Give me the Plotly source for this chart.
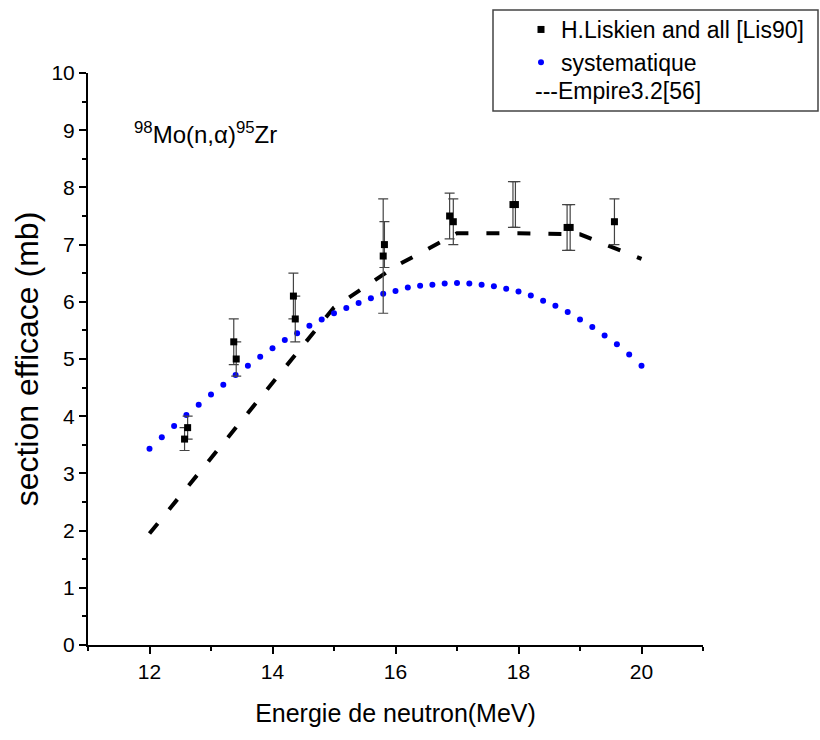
import plotly.graph_objects as go

# Experimental data: H.Liskien and all [Lis90]
lis_x = [12.57, 12.62, 13.37, 13.41, 14.34, 14.37, 15.80, 15.82, 16.88, 16.94, 17.91, 17.95, 18.79, 18.84, 19.56]
lis_y = [3.6, 3.8, 5.3, 5.0, 6.1, 5.7, 6.8, 7.0, 7.5, 7.4, 7.7, 7.7, 7.3, 7.3, 7.4]
lis_err = [0.2, 0.2, 0.4, 0.3, 0.4, 0.4, 1.0, 0.4, 0.4, 0.4, 0.4, 0.4, 0.4, 0.4, 0.4]

# Systematique
sys_x = [12.0, 12.2, 12.4, 12.6, 12.8, 13.0, 13.2, 13.4, 13.6, 13.8,
         14.0, 14.2, 14.4, 14.6, 14.8, 15.0, 15.2, 15.4, 15.6, 15.8,
         16.0, 16.2, 16.4, 16.6, 16.8, 17.0, 17.2, 17.4, 17.6, 17.8,
         18.0, 18.2, 18.4, 18.6, 18.8, 19.0, 19.2, 19.4, 19.6, 19.8, 20.0]
sys_y = [3.43, 3.63, 3.83, 4.02, 4.20, 4.38, 4.55, 4.72, 4.88, 5.04,
         5.19, 5.33, 5.45, 5.58, 5.69, 5.80, 5.89, 5.98, 6.06, 6.14,
         6.19, 6.25, 6.28, 6.30, 6.32, 6.33, 6.32, 6.30, 6.27, 6.23,
         6.18, 6.11, 6.02, 5.93, 5.82, 5.69, 5.56, 5.41, 5.26, 5.08, 4.88]

# Empire3.2 calculation
emp_x = [12, 13, 14, 15, 16, 17, 18, 19, 20]
emp_y = [1.95, 3.27, 4.58, 5.9, 6.62, 7.2, 7.2, 7.18, 6.75]

FONT = "Liberation Sans, Arial, sans-serif"

# plot area in page pixels (body margin removed below)
L, T, PW, PH = 88, 73, 615, 572


def px_x(p):
    return (p - L) / PW


def px_y(p):
    return 1 - (p - T) / PH


fig = go.Figure()

fig.add_trace(go.Scatter(
    x=emp_x, y=emp_y, mode="lines", name="---Empire3.2[56]",
    line=dict(color="black", width=4, dash="13px,18px"),
    showlegend=False,
))

fig.add_trace(go.Scatter(
    x=sys_x, y=sys_y, mode="markers", name="systematique",
    marker=dict(color="#0000ff", size=6, symbol="circle"),
))

fig.add_trace(go.Scatter(
    x=lis_x, y=lis_y, mode="markers", name="H.Liskien and all [Lis90]",
    marker=dict(color="black", size=7, symbol="square"),
    error_y=dict(type="data", array=lis_err, visible=True,
                 color="#444444", thickness=1.2, width=5),
))

fig.update_layout(
    width=820, height=740,
    margin=dict(l=L, r=820 - L - PW, t=T, b=740 - T - PH, autoexpand=False),
    paper_bgcolor="white", plot_bgcolor="white",
    font=dict(family=FONT, color="black", size=20),
    showlegend=True,
    legend=dict(
        x=px_x(521), y=px_y(8), xanchor="left", yanchor="top",
        bgcolor="rgba(0,0,0,0)", borderwidth=0,
        font=dict(size=23, family=FONT),
        traceorder="reversed",
    ),
    xaxis=dict(
        range=[11, 21], tick0=0, dtick=2, automargin=False,
        showgrid=False, zeroline=False,
        showline=True, linecolor="black", linewidth=2,
        ticks="outside", ticklen=7, tickwidth=2, tickcolor="black",
        minor=dict(dtick=1, tick0=1, ticks="outside", ticklen=4, tickwidth=1.5, tickcolor="black"),
        tickfont=dict(size=21, family=FONT),
        title=dict(text="Energie de neutron(MeV)", font=dict(size=25, family=FONT), standoff=22),
    ),
    yaxis=dict(
        range=[0, 10], tick0=0, dtick=1, automargin=False,
        showgrid=False, zeroline=False,
        showline=True, linecolor="black", linewidth=2,
        ticks="outside", ticklen=7, tickwidth=2, tickcolor="black",
        minor=dict(dtick=0.5, tick0=0, ticks="outside", ticklen=4, tickwidth=1.5, tickcolor="black"),
        tickfont=dict(size=21, family=FONT),
        title=dict(text="section efficace (mb)", font=dict(size=32, family=FONT), standoff=3),
    ),
    shapes=[dict(type="rect", xref="paper", yref="paper",
                 x0=px_x(493), x1=px_x(818),
                 y0=px_y(111), y1=px_y(10),
                 line=dict(color="#444444", width=1.5), fillcolor="rgba(0,0,0,0)")],
    annotations=[
        dict(text="<sup>98</sup>Mo(n,α)<sup>95</sup>Zr", xref="paper", yref="paper",
             x=px_x(132), y=px_y(133), xanchor="left", yanchor="middle",
             showarrow=False, font=dict(size=24, family=FONT)),
        dict(text="---Empire3.2[56]", xref="paper", yref="paper",
             x=px_x(533), y=px_y(91), xanchor="left", yanchor="middle",
             showarrow=False, font=dict(size=23, family=FONT)),
    ],
)

fig.write_html(
    "out.html",
    config={"displayModeBar": False},
    post_script="document.body.style.margin='0';document.body.style.overflow='hidden';",
)
